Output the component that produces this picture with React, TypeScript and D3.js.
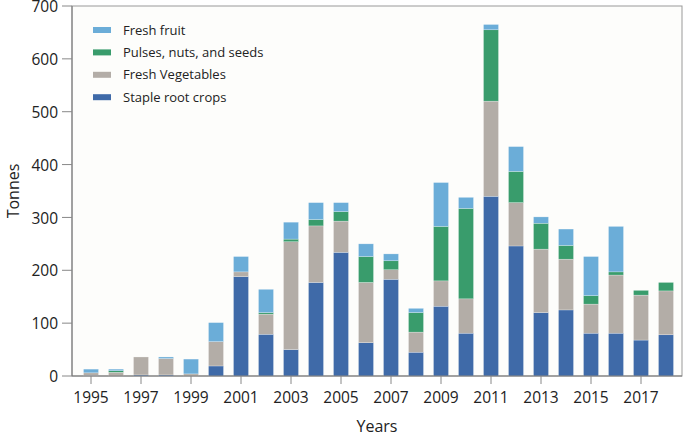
import React from "react";
import * as d3 from "d3";

const years = [1995,1996,1997,1998,1999,2000,2001,2002,2003,2004,2005,2006,2007,2008,2009,2010,2011,2012,2013,2014,2015,2016,2017,2018];
const stapleRoot = [1,0,2,2,0,19,188,79,50,177,234,63,183,45,132,81,340,246,120,125,81,81,68,78];
const freshVeg = [5,7,34,31,4,46,9,38,204,107,59,114,18,38,48,65,180,82,120,96,55,110,85,83];
const pulses = [0,3,0,0,0,0,0,3,5,12,18,49,17,37,103,171,135,59,49,26,16,6,9,16];
const freshFruit = [7,3,0,3,28,36,29,44,32,32,17,24,13,8,83,21,10,47,12,31,74,86,0,0];
const yTicks = [0,100,200,300,400,500,600,700];
const xTickYears = [1995,1997,1999,2001,2003,2005,2007,2009,2011,2013,2015,2017];

const seriesKeys = ["staple","veg","pulses","fruit"];
const seriesLabels: Record<string,string> = {
  fruit: "Fresh fruit",
  pulses: "Pulses, nuts, and seeds",
  veg: "Fresh Vegetables",
  staple: "Staple root crops",
};
const colors: Record<string,string> = {
  staple: "#3f6aa8",
  veg: "#b3ada7",
  pulses: "#399c6c",
  fruit: "#6badd8",
};
const legendOrder = ["fruit","pulses","veg","staple"];

const W = 685, H = 437;
const left = 72, right = 682, top = 6, bottom = 376;
const font = "'Open Sans', sans-serif";

export default function App() {
  const rows = years.map((yr, i) => ({
    year: yr,
    staple: stapleRoot[i],
    veg: freshVeg[i],
    pulses: pulses[i],
    fruit: freshFruit[i],
  }));
  const stack = d3.stack<any>().keys(seriesKeys)(rows);
  const x = d3.scaleLinear().domain([1995, 2018]).range([91, 666]);
  const y = d3.scaleLinear().domain([0, 700]).range([bottom, top]);
  const bw = 15;
  const axisColor = "#888";

  return (
    <svg width={W} height={H} style={{ position: "absolute", left: 0, top: 0, background: "#fff" }}>
      <rect x={left} y={top} width={right - left} height={bottom - top} fill="#fdfdfb" stroke="#999" strokeWidth={1} />
      {stack.map((s) => (
        <g key={s.key} fill={colors[s.key]}>
          {s.map((d, i) => {
            const h = y(d[0]) - y(d[1]);
            if (h <= 0) return null;
            return (
              <rect key={i} x={x(years[i]) - bw / 2} y={y(d[1])} width={bw} height={h}
                stroke="#ffffff" strokeOpacity={0.5} strokeWidth={0.5} />
            );
          })}
        </g>
      ))}
      {/* y axis */}
      <line x1={left} x2={left} y1={top} y2={bottom} stroke="#777" />
      {yTicks.map((t) => (
        <g key={t}>
          <line x1={left - 10} x2={left} y1={y(t)} y2={y(t)} stroke={axisColor} />
          <text x={left - 14} y={y(t)} dy="0.4em" textAnchor="end" fontFamily={font} fontSize={15.5} fill="#222">{t}</text>
        </g>
      ))}
      {/* x axis */}
      <line x1={left} x2={right} y1={bottom} y2={bottom} stroke="#777" />
      {xTickYears.map((t) => (
        <g key={t}>
          <line x1={x(t)} x2={x(t)} y1={bottom} y2={bottom + 8} stroke={axisColor} />
          <text x={x(t)} y={403} textAnchor="middle" fontFamily={font} fontSize={15.5} fill="#222">{t}</text>
        </g>
      ))}
      <text x={377} y={432} textAnchor="middle" fontFamily={font} fontSize={16} fill="#222">Years</text>
      <text transform={`translate(19,${(top + bottom) / 2}) rotate(-90)`} textAnchor="middle" fontFamily={font} fontSize={16} fill="#222">Tonnes</text>
      {/* legend */}
      {legendOrder.map((k, i) => (
        <g key={k} transform={`translate(93,${30 + i * 22.4})`}>
          <rect x={0} y={-3} width={18} height={6} fill={colors[k]} />
          <text x={30} y={0} dy="0.35em" fontFamily={font} fontSize={13} fill="#222">{seriesLabels[k]}</text>
        </g>
      ))}
    </svg>
  );
}
